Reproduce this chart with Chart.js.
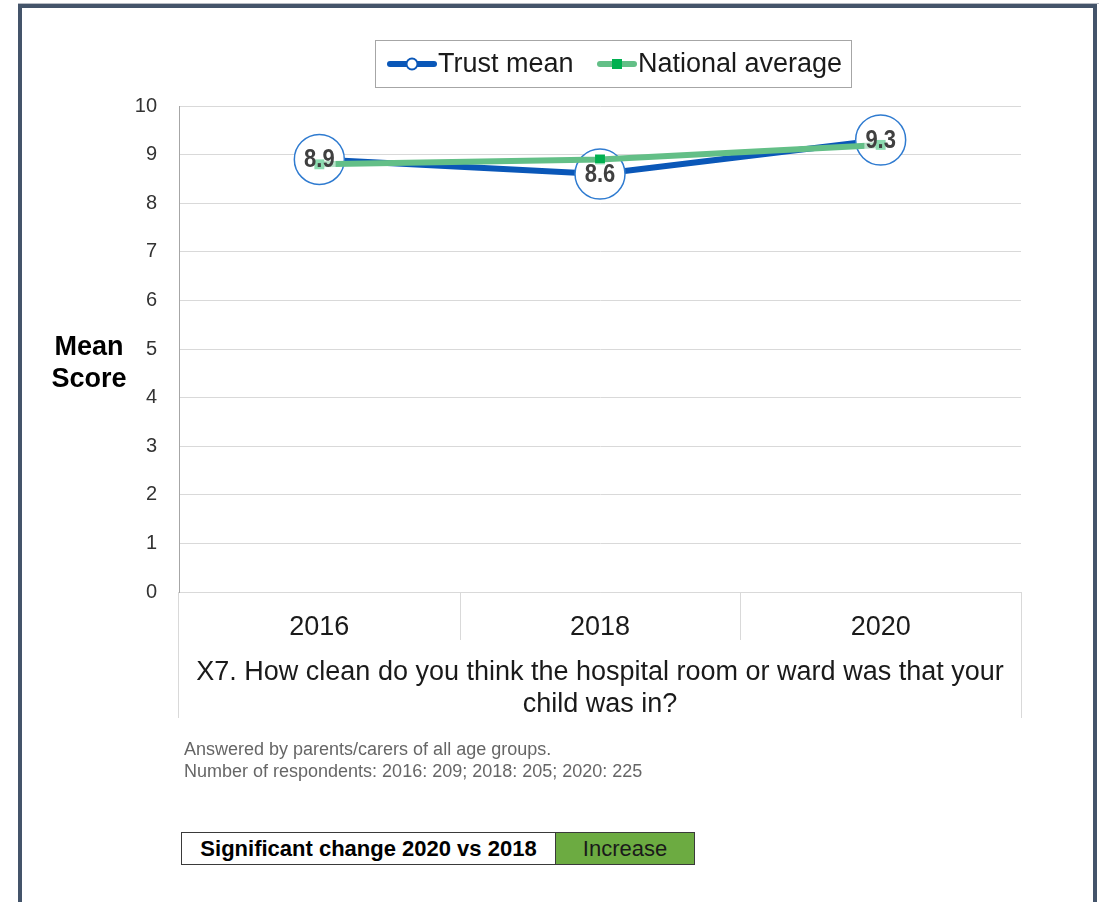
<!DOCTYPE html>
<html>
<head>
<meta charset="utf-8">
<script src="https://cdn.jsdelivr.net/npm/chart.js@4/dist/chart.umd.min.js"></script>
<style>
  html, body { margin: 0; padding: 0; background: #ffffff; }
  body { width: 1099px; height: 902px; position: relative; overflow: hidden; font-family: "Liberation Sans", Arial, sans-serif; }
  #wrap { position: absolute; left: 0; top: 0; width: 1099px; height: 730px; }
  #frame { position: absolute; left: 18px; top: 4px; width: 1071px; height: 920px; border-left: 4px solid #44546a; border-top: 4px solid #44546a; border-right: 4px solid #44546a; pointer-events: none; }
  #topline { position: absolute; left: 18px; top: 3px; width: 1081px; height: 1px; background: #b8bcc4; }
  #note { position: absolute; left: 184px; top: 738px; font-size: 18px; line-height: 22px; color: #666666; white-space: nowrap; }
  #sig { position: absolute; left: 181px; top: 832px; height: 33px; display: flex; border: 1px solid #3a3a3a; box-sizing: border-box; }
  #sig .lab { width: 374px; height: 31px; line-height: 31px; text-align: center; font-weight: bold; font-size: 22px; color: #000; background: #fff; border-right: 1px solid #3a3a3a; box-sizing: border-box; }
  #sig .val { width: 138px; height: 31px; line-height: 31px; text-align: center; font-size: 22px; color: #1a1a1a; background: #6cab41; }
</style>
</head>
<body>
<div id="wrap"><canvas id="c"></canvas></div>
<div id="topline"></div>
<div id="frame"></div>
<div id="note"></div>
<div id="sig"><div class="lab"></div><div class="val"></div></div>
<script>
// ---- data ----
const categories = ['2016', '2018', '2020'];
const trustMean = [8.9, 8.6, 9.3];
const nationalAverage = [8.8, 8.9, 9.2];
const seriesNames = ['Trust mean', 'National average'];
const yAxisTitle = ['Mean', 'Score'];
const xAxisTitle = ['X7. How clean do you think the hospital room or ward was that your', 'child was in?'];
const yMin = 0, yMax = 10, yStep = 1;
const noteLines = ['Answered by parents/carers of all age groups.', 'Number of respondents: 2016: 209; 2018: 205; 2020: 225'];
const sigLabel = 'Significant change 2020 vs 2018';
const sigValue = 'Increase';

document.getElementById('note').innerHTML = noteLines.join('<br>');
document.querySelector('#sig .lab').textContent = sigLabel;
document.querySelector('#sig .val').textContent = sigValue;

const FONT = '"Liberation Sans", Arial, sans-serif';
const BLUE = '#0a57b8';
const BLUE_MARK = '#2f7bd0';
const GREEN = '#63bf87';
const GREEN_MARK = '#00b050';

const extras = {
  id: 'extras',
  beforeDatasetsDraw(chart) {
    const ctx = chart.ctx, xs = chart.scales.x, ca = chart.chartArea;
    ctx.save();
    ctx.strokeStyle = '#d9d9d9';
    ctx.lineWidth = 1;
    for (let i = 1; i < categories.length; i++) {
      const bx = Math.round((xs.getPixelForTick(i - 1) + xs.getPixelForTick(i)) / 2) + 0.5;
      ctx.beginPath(); ctx.moveTo(bx, ca.bottom); ctx.lineTo(bx, ca.bottom + 48); ctx.stroke();
    }
    [Math.round(ca.left) - 0.5, Math.round(ca.right) + 0.5].forEach(bx => {
      ctx.beginPath(); ctx.moveTo(bx, ca.bottom); ctx.lineTo(bx, ca.bottom + 126); ctx.stroke();
    });
    ctx.restore();
  },
  afterDatasetsDraw(chart) {
    const ctx = chart.ctx;
    const meta = chart.getDatasetMeta(0);
    ctx.save();
    ctx.font = 'bold 22px ' + FONT;
    ctx.textAlign = 'center';
    ctx.textBaseline = 'middle';
    meta.data.forEach((pt, i) => {
      const txt = trustMean[i].toFixed(1);
      const w = ctx.measureText(txt).width;
      ctx.fillStyle = 'rgba(255,255,255,0.55)';
      ctx.fillRect(pt.x - w / 2 - 1, pt.y - 11, w + 2, 22);
      ctx.save();
      ctx.translate(pt.x, pt.y + 1);
      ctx.scale(1, 1.15);
      ctx.fillStyle = '#404040';
      ctx.fillText(txt, 0, 0);
      ctx.restore();
    });
    ctx.restore();
  },
  afterDraw(chart) {
    const ctx = chart.ctx;
    ctx.save();
    ctx.font = 'bold 27px ' + FONT;
    ctx.fillStyle = '#000';
    ctx.textAlign = 'center';
    ctx.textBaseline = 'middle';
    ctx.fillText(yAxisTitle[0], 89, 348);
    ctx.fillText(yAxisTitle[1], 89, 380);
    // legend
    ctx.strokeStyle = '#a6a6a6';
    ctx.lineWidth = 1;
    ctx.strokeRect(375.5, 40.5, 476, 47);
    const ly = 64;
    ctx.strokeStyle = BLUE; ctx.lineWidth = 6; ctx.lineCap = 'round';
    ctx.beginPath(); ctx.moveTo(390, ly); ctx.lineTo(434, ly); ctx.stroke();
    ctx.lineCap = 'butt';
    ctx.fillStyle = '#fff'; ctx.strokeStyle = BLUE; ctx.lineWidth = 2;
    ctx.beginPath(); ctx.arc(412, ly, 5.5, 0, Math.PI * 2); ctx.fill(); ctx.stroke();
    ctx.strokeStyle = GREEN; ctx.lineWidth = 6; ctx.lineCap = 'round';
    ctx.beginPath(); ctx.moveTo(600, ly); ctx.lineTo(634, ly); ctx.stroke();
    ctx.lineCap = 'butt';
    ctx.fillStyle = GREEN_MARK;
    ctx.fillRect(612, ly - 5, 10, 10);
    ctx.font = '27px ' + FONT;
    ctx.fillStyle = '#1a1a1a';
    ctx.textAlign = 'left';
    ctx.fillText(seriesNames[0], 438, ly + 1);
    ctx.fillText(seriesNames[1], 638, ly + 1);
    ctx.restore();
  }
};

new Chart(document.getElementById('c'), {
  type: 'line',
  data: {
    labels: categories,
    datasets: [
      {
        label: seriesNames[0],
        data: trustMean,
        borderColor: BLUE,
        borderWidth: 6,
        pointRadius: 25,
        pointHoverRadius: 25,
        pointBackgroundColor: '#ffffff',
        pointBorderColor: BLUE_MARK,
        pointBorderWidth: 1.5,
        tension: 0,
        order: 1
      },
      {
        label: seriesNames[1],
        data: nationalAverage,
        borderColor: GREEN,
        borderWidth: 6,
        pointStyle: 'rect',
        pointRadius: 7,
        pointHoverRadius: 7,
        pointBackgroundColor: GREEN_MARK,
        pointBorderColor: GREEN_MARK,
        pointBorderWidth: 0,
        tension: 0,
        order: 0
      }
    ]
  },
  options: {
    responsive: true,
    maintainAspectRatio: false,
    devicePixelRatio: 1,
    animation: false,
    layout: { padding: { top: 106, right: 78, left: 0, bottom: 0 } },
    plugins: { legend: { display: false }, tooltip: { enabled: false } },
    scales: {
      x: {
        type: 'category',
        offset: true,
        grid: { display: false, drawTicks: false },
        border: { display: true, color: '#d9d9d9', width: 1 },
        ticks: { font: { family: FONT, size: 27 }, color: '#1a1a1a', padding: 19, maxRotation: 0, autoSkip: false },
        title: { display: true, text: xAxisTitle, font: { family: FONT, size: 27, lineHeight: 32 / 27 }, color: '#1a1a1a', padding: { top: 0, bottom: 9 } },
        afterFit(s) { s.height = 138; }
      },
      y: {
        min: yMin, max: yMax,
        grid: { color: '#d9d9d9', lineWidth: 1, drawTicks: false },
        border: { display: true, color: '#a6a6a6', width: 1 },
        ticks: { stepSize: yStep, font: { family: FONT, size: 20 }, color: '#333333', padding: 22 },
        afterFit(s) { s.width = 179; }
      }
    }
  },
  plugins: [extras]
});
</script>
</body>
</html>
